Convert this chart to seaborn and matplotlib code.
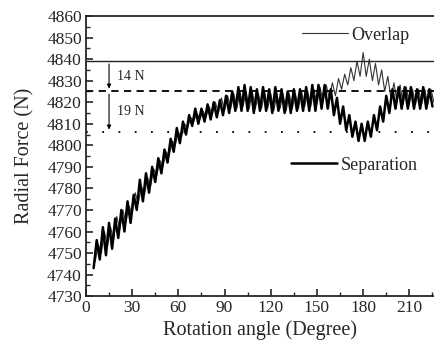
import numpy as np
import pandas as pd
import seaborn as sns
import matplotlib
matplotlib.use('Agg')
import matplotlib.pyplot as plt
from matplotlib.ticker import MultipleLocator

# rotation angles (deg) and radial force (N)
sep_angle = [5, 7, 9, 11, 13, 15, 17, 19, 21, 23, 25, 27, 29, 31, 33, 35, 37, 39, 41, 43,
             45, 47, 49, 51, 53, 55, 57, 59, 61, 63, 65, 67, 69, 71, 73, 75, 77, 79, 81, 83,
             85, 87, 89, 91, 93, 95, 97, 99, 101, 103, 105, 107, 109, 111, 113, 115, 117, 119, 121, 123,
             125, 127, 129, 131, 133, 135, 137, 139, 141, 143, 145, 147, 149, 151, 153, 155, 157, 159, 161, 163,
             165, 167, 169, 171, 173, 175, 177, 179, 181, 183, 185, 187, 189, 191, 193, 195, 197, 199, 201, 203,
             205, 207, 209, 211, 213, 215, 217, 219, 221, 223, 225]
sep_force = [4743, 4756, 4747, 4762, 4749, 4764, 4752, 4766, 4757, 4770, 4760, 4774, 4764, 4777, 4770, 4784, 4774, 4787, 4778, 4790,
             4783, 4794, 4787, 4798, 4792, 4803, 4797, 4808, 4801, 4811, 4805, 4814, 4809, 4817, 4810, 4817, 4811, 4819, 4812, 4820,
             4813, 4821, 4814, 4823, 4815, 4825, 4816, 4827, 4816, 4828, 4816, 4827, 4815, 4826, 4816, 4827, 4816, 4826, 4815, 4827,
             4816, 4826, 4815, 4825, 4815, 4826, 4816, 4826, 4816, 4827, 4816, 4828, 4816, 4828, 4817, 4828, 4817, 4826, 4814, 4822,
             4810, 4818, 4807, 4814, 4804, 4811, 4802, 4810, 4802, 4811, 4804, 4814, 4807, 4818, 4811, 4823, 4815, 4826, 4817, 4827,
             4817, 4827, 4817, 4827, 4817, 4826, 4817, 4827, 4817, 4826, 4818]

ovl_angle = [6, 8, 10, 12, 14, 16, 18, 20, 22, 24, 26, 28, 30, 32, 34, 36, 38, 40, 42, 44,
             46, 48, 50, 52, 54, 56, 58, 60, 62, 64, 66, 68, 70, 72, 74, 76, 78, 80, 82, 84,
             86, 88, 90, 92, 94, 96, 98, 100, 102, 104, 106, 108, 110, 112, 114, 116, 118, 120, 122, 124,
             126, 128, 130, 132, 134, 136, 138, 140, 142, 144, 146, 148, 150, 152, 154, 156, 158, 160, 162, 164,
             166, 168, 170, 172, 174, 176, 178, 180, 182, 184, 186, 188, 190, 192, 194, 196, 198, 200, 202, 204,
             206, 208, 210, 212, 214, 216, 218, 220, 222, 224, 226]
ovl_force = [4746, 4754, 4750, 4760, 4753, 4762, 4756, 4767, 4761, 4770, 4764, 4772, 4768, 4778, 4773, 4781, 4777, 4785, 4781, 4789,
             4786, 4793, 4790, 4797, 4795, 4802, 4800, 4806, 4804, 4810, 4808, 4813, 4811, 4815, 4812, 4816, 4813, 4818, 4814, 4820,
             4815, 4822, 4816, 4823, 4817, 4824, 4817, 4825, 4818, 4825, 4817, 4825, 4817, 4824, 4817, 4825, 4817, 4824, 4816, 4824,
             4817, 4824, 4816, 4824, 4817, 4824, 4817, 4825, 4818, 4825, 4818, 4826, 4819, 4827, 4820, 4828, 4822, 4829, 4823, 4831,
             4826, 4833, 4828, 4836, 4830, 4839, 4832, 4843, 4832, 4840, 4830, 4838, 4828, 4835, 4825, 4832, 4822, 4829, 4820, 4828,
             4819, 4827, 4819, 4826, 4819, 4826, 4819, 4826, 4819, 4826, 4820]

max_level = 4839
mean_level = 4825
min_level = 4806

sns.set_style('ticks')
plt.rcParams['font.family'] = ['Liberation Serif', 'DejaVu Serif']

fig = plt.figure(figsize=(4.34, 3.48), dpi=100)
ax = fig.add_axes([0.198, 0.149, 0.802, 0.805])

df_sep = pd.DataFrame({'angle': sep_angle, 'force': sep_force})
df_ovl = pd.DataFrame({'angle': ovl_angle, 'force': ovl_force})

sns.lineplot(data=df_ovl, x='angle', y='force', ax=ax, color='#333333', lw=0.8)
sns.lineplot(data=df_sep, x='angle', y='force', ax=ax, color='black', lw=1.8)

ax.axhline(max_level, color='#222222', lw=1.0)
ax.axhline(mean_level, color='black', lw=1.3, ls=(0, (4, 3)))
ax.axhline(min_level, color='black', lw=1.3, ls=(0, (1, 8)))

# double arrow with the 14 N / 19 N spans
ax.annotate('', xy=(15, max_level), xytext=(15, mean_level),
            arrowprops=dict(arrowstyle='<|-', color='black', lw=0.8, mutation_scale=6))
ax.annotate('', xy=(15, min_level), xytext=(15, mean_level),
            arrowprops=dict(arrowstyle='-|>', color='black', lw=0.8, mutation_scale=6))
ax.text(20, (max_level + mean_level) / 2, f'{max_level - mean_level} N', fontsize=10, va='center')
ax.text(20, (mean_level + min_level) / 2, f'{mean_level - min_level} N', fontsize=10, va='center')

# legend entries placed as in the original
ov_handle = plt.Line2D([], [], color='#333333', lw=0.8)
sp_handle = plt.Line2D([], [], color='black', lw=1.8)
leg_kw = dict(loc='center left', frameon=False, handlelength=2.55, handletextpad=0.2,
              borderaxespad=0, borderpad=0, fontsize=13)
leg1 = ax.legend([ov_handle], ['Overlap'], bbox_to_anchor=(0.62, 0.932), **leg_kw)
ax.add_artist(leg1)
ax.legend([sp_handle], ['Separation'], bbox_to_anchor=(0.589, 0.468), **leg_kw)

ax.set_xlim(0, 226)
ax.set_ylim(4730, 4860)
ax.xaxis.set_major_locator(MultipleLocator(30))
ax.xaxis.set_minor_locator(MultipleLocator(15))
ax.yaxis.set_major_locator(MultipleLocator(10))
ax.yaxis.set_minor_locator(MultipleLocator(5))
ax.tick_params(which='both', direction='in', top=False, right=False, labelsize=12.5)
ax.tick_params(which='major', length=5, width=1.2, pad=3)
ax.tick_params(which='minor', length=3, width=1.0)
for s in ['left', 'bottom', 'top']:
    ax.spines[s].set_linewidth(1.3)
ax.spines['right'].set_visible(False)

ax.set_xlabel('Rotation angle (Degree)', fontsize=14.5, labelpad=3)
ax.set_ylabel('Radial Force (N)', fontsize=14.5, labelpad=9)

fig.savefig('out.png', dpi=100)
